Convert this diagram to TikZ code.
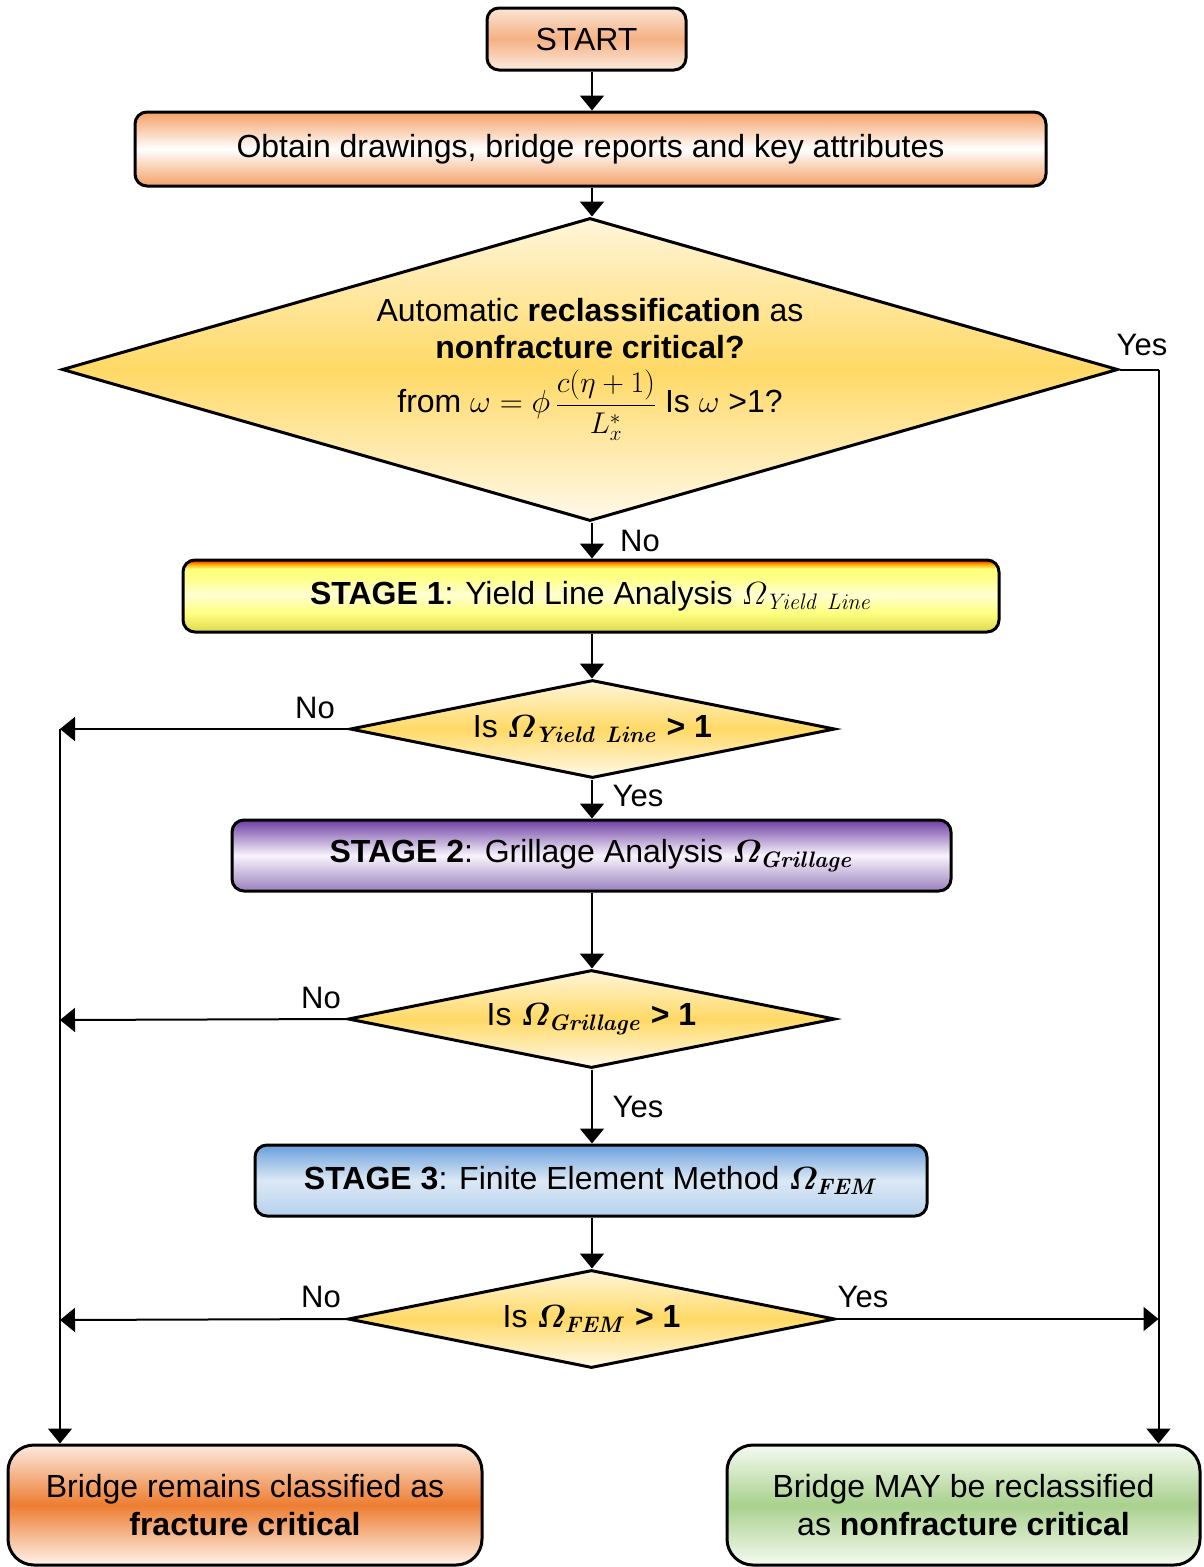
\documentclass[tikz,border=0pt]{standalone}
\usepackage{fix-cm}
\usepackage{amsmath}
\usepackage[no-math]{fontspec}
\setmainfont{Liberation Sans}
\usetikzlibrary{shapes.geometric,arrows.meta}

% colours
\definecolor{startTop}{HTML}{FBE5D6}
\definecolor{startMid}{HTML}{F4B183}
\definecolor{startBot}{HTML}{FCEBDF}
\definecolor{obtEdge}{HTML}{F4A066}
\definecolor{decTop}{HTML}{FFF6DA}
\definecolor{decMid}{HTML}{FFD966}
\definecolor{decBot}{HTML}{FFF9EA}
\definecolor{sy1}{HTML}{DCD84E}
\definecolor{sy2}{HTML}{FFFF80}
\definecolor{sy3}{HTML}{FFFFD2}
\definecolor{sy4}{HTML}{FFB000}
\definecolor{sy5}{HTML}{FF1A00}
\definecolor{spTop}{HTML}{6E3FA3}
\definecolor{spMid}{HTML}{F8F4FC}
\definecolor{spBot}{HTML}{9980BE}
\definecolor{sbTop}{HTML}{6A9FDB}
\definecolor{sbMid}{HTML}{DCE9F6}
\definecolor{sbBot}{HTML}{B5D0EC}
\definecolor{fcMid}{HTML}{ED7D31}
\definecolor{fcTop}{HTML}{FCEADF}
\definecolor{fcBot}{HTML}{FEF3EC}
\definecolor{nfMid}{HTML}{A9D18E}
\definecolor{nfTop}{HTML}{F5FAF1}
\definecolor{nfBot}{HTML}{F5FAF1}

% red-topped yellow band for stage 1
\pgfdeclareverticalshading{stageyellow}{100bp}{color(0bp)=(sy1); color(25bp)=(sy1); color(38bp)=(sy2); color(51bp)=(sy3); color(64bp)=(sy2); color(69bp)=(sy2); color(72bp)=(sy4); color(75bp)=(sy5); color(100bp)=(sy5)}

\begin{document}
\begin{tikzpicture}[x=1pt,y=-1pt,
  every node/.style={font=\fontsize{32}{38}\selectfont, inner sep=0pt},
  box/.style={draw=black, line width=3pt, rounded corners=12pt, align=center},
  decision/.style={draw=black, line width=3pt, diamond, align=center,
    top color=decTop, bottom color=decBot, middle color=decMid},
  conn/.style={line width=2pt, -{Triangle[length=15pt,width=24pt]}},
  plain/.style={line width=2pt},
  lbl/.style={font=\fontsize{31}{37}\selectfont}]

\useasboundingbox (0,0) rectangle (1204,1567);

% process boxes
\node[box, minimum width=199pt, minimum height=62pt,
  top color=startTop, bottom color=startBot, middle color=startMid]
  (start) at (586.5,39) {START};
\node[box, minimum width=911pt, minimum height=74pt,
  top color=obtEdge, bottom color=obtEdge, middle color=white]
  (obtain) at (590.5,149) {Obtain drawings, bridge reports and key attributes};

\node[decision, aspect=3.49, minimum width=1056pt, minimum height=303pt]
  (auto) at (590,369.5)
  {Automatic \textbf{reclassification} as\\[-1pt]
   \textbf{nonfracture critical?}\\[10pt]
   from $\omega=\phi$\,{\fontsize{30}{34}\selectfont$\dfrac{c(\eta+1)}{L_x^*}$} Is $\omega$ >1?};

\node[box, minimum width=816pt, minimum height=72pt, shading=stageyellow]
  (s1) at (591,596)
  {\textbf{STAGE 1}: Yield Line Analysis $\varOmega_{\mathit{Yield\ Line}}$};
\node[decision, aspect=4.95, minimum width=485pt, minimum height=98pt]
  (d1) at (592.5,729)
  {Is {\boldmath$\varOmega_{\mathit{Yield\ Line}}$} \textbf{> 1}};

\node[box, minimum width=719pt, minimum height=71pt,
  top color=spTop, bottom color=spBot, middle color=spMid]
  (s2) at (591.5,855.5)
  {\textbf{STAGE 2}: Grillage Analysis {\boldmath$\varOmega_{\mathit{Grillage}}$}};
\node[decision, aspect=4.97, minimum width=487pt, minimum height=98pt]
  (d2) at (591.5,1019)
  {Is {\boldmath$\varOmega_{\mathit{Grillage}}$} \textbf{> 1}};

\node[box, minimum width=672pt, minimum height=71pt,
  top color=sbTop, bottom color=sbBot, middle color=sbMid]
  (s3) at (591,1180.5)
  {\textbf{STAGE 3}: Finite Element Method {\boldmath$\varOmega_{\mathit{FEM}}$}};
\node[decision, aspect=4.97, minimum width=487pt, minimum height=98pt]
  (d3) at (591.5,1319)
  {Is {\boldmath$\varOmega_{\mathit{FEM}}$} \textbf{> 1}};

% outcomes
\node[box, rounded corners=26pt, minimum width=474pt, minimum height=120pt,
  top color=fcTop, bottom color=fcBot, middle color=fcMid]
  (fc) at (245,1505)
  {Bridge remains classified as\\ \textbf{fracture critical}};
\node[box, rounded corners=26pt, minimum width=473pt, minimum height=120pt,
  top color=nfTop, bottom color=nfBot, middle color=nfMid]
  (nfc) at (963.5,1505)
  {Bridge MAY be reclassified\\ as \textbf{nonfracture critical}};

% main vertical flow
\coordinate (a1) at (592,186);
\draw[conn] (start.south -| a1) -- (a1 |- obtain.north);
\draw[conn] (obtain.south -| a1) -- (a1 |- auto.north);
\draw[conn] (auto.south -| a1) -- (a1 |- s1.north);
\draw[conn] (s1.south -| a1) -- (a1 |- d1.north);
\draw[conn] (d1.south -| a1) -- (a1 |- s2.north);
\draw[conn] (s2.south -| a1) -- (a1 |- d2.north);
\draw[conn] (d2.south -| a1) -- (a1 |- s3.north);
\draw[conn] (s3.south -| a1) -- (a1 |- d3.north);

% "No" branches to the left rail
\coordinate (L1) at (60,729);
\coordinate (L2) at (60,1020);
\coordinate (L3) at (60,1320);
\draw[conn] (d1.west) -- (L1);
\draw[conn] (d2.west) -- (L2);
\draw[conn] (d3.west) -- (L3);
\draw[conn] (L1) -- (L1 |- fc.north);

% "Yes" branches to the right rail
\path (auto.east) ++(39,0) coordinate (R1);
\draw[plain] (auto.east) -- (R1);
\draw[conn] (R1) -- (R1 |- nfc.north);
\draw[conn] (d3.east) -- (R1 |- d3.east);

% branch labels
\node[lbl] (yA) at (1142,345) {Yes};
\node[lbl] (nA) at (640,541) {No};
\node[lbl] (n1) at (315,708) {No};
\node[lbl] (y1) at (638,796) {Yes};
\node[lbl] (n2) at (321,998) {No};
\node[lbl] (y2) at (638,1107) {Yes};
\node[lbl] (n3) at (321,1297) {No};
\node[lbl] (y3) at (863,1297) {Yes};
\end{tikzpicture}
\end{document}
